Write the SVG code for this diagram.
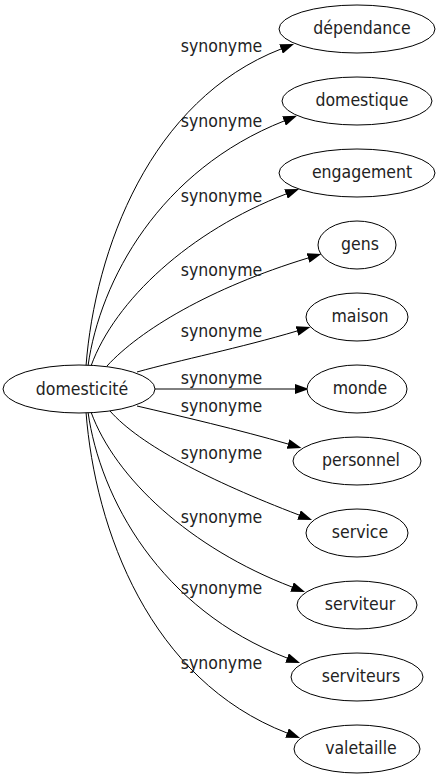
<svg xmlns="http://www.w3.org/2000/svg" width="439" height="779" viewBox="0 0 439 779">
<style>
.node ellipse{fill:#fff;stroke:#000;stroke-width:1}
.node text{font-family:"DejaVu Sans Condensed","DejaVu Sans",sans-serif;font-stretch:condensed;font-size:17.5px;text-anchor:middle;fill:#222}
.edges path{fill:none;stroke:#000;stroke-width:1;marker-end:url(#arr)}
.edges text{font-family:"DejaVu Sans Condensed","DejaVu Sans",sans-serif;font-stretch:condensed;font-size:17.5px;text-anchor:middle;fill:#222}
</style>
<defs>
<marker id="arr" markerUnits="userSpaceOnUse" markerWidth="14" markerHeight="10" viewBox="0 0 14 10" refX="0" refY="5" orient="auto">
<path d="M0,0 L14,5 L0,10 z" fill="#000"/>
</marker>
</defs>
<rect width="439" height="779" fill="#fff"/>
<g class="edges" id="edges">
<path d="M86,366 C95,250 150,100 281,49"/>
<text x="221.5" y="52">synonyme</text>
<path d="M88,366 C100,280 160,170 284,121"/>
<text x="221.5" y="127">synonyme</text>
<path d="M91,366 C115,300 190,231 286,194"/>
<text x="221.5" y="202">synonyme</text>
<path d="M107,366 C140,330 210,288 308,258"/>
<text x="221.5" y="276">synonyme</text>
<path d="M137,372 C180,360 240,348 297,331"/>
<text x="221.5" y="337">synonyme</text>
<path d="M155,389 L295,389"/>
<text x="221.5" y="384">synonyme</text>
<path d="M137,406 C180,416 240,430 288,444"/>
<text x="221.5" y="412">synonyme</text>
<path d="M110,411 C140,445 210,481 299,515"/>
<text x="221.5" y="459">synonyme</text>
<path d="M91,412 C115,478 190,548 292,587"/>
<text x="221.5" y="523">synonyme</text>
<path d="M88,412 C100,498 160,609 287,658"/>
<text x="221.5" y="594">synonyme</text>
<path d="M86,412 C95,530 150,680 287,733"/>
<text x="221.5" y="669">synonyme</text>
</g>
<g class="node" id="n-domesticite"><ellipse cx="79" cy="389" rx="76" ry="24"/><text x="82" y="395">domesticité</text></g>
<g class="node" id="n-dependance"><ellipse cx="357" cy="29" rx="78" ry="24"/><text x="362" y="34">dépendance</text></g>
<g class="node" id="n-domestique"><ellipse cx="357" cy="101" rx="75" ry="24"/><text x="362" y="106">domestique</text></g>
<g class="node" id="n-engagement"><ellipse cx="357" cy="173" rx="78" ry="24"/><text x="362" y="178">engagement</text></g>
<g class="node" id="n-gens"><ellipse cx="357" cy="245" rx="39" ry="24"/><text x="360" y="250">gens</text></g>
<g class="node" id="n-maison"><ellipse cx="357" cy="317" rx="51" ry="24"/><text x="360" y="322">maison</text></g>
<g class="node" id="n-monde"><ellipse cx="357" cy="389" rx="50" ry="24"/><text x="360" y="394">monde</text></g>
<g class="node" id="n-personnel"><ellipse cx="357" cy="461" rx="64" ry="24"/><text x="361" y="466">personnel</text></g>
<g class="node" id="n-service"><ellipse cx="357" cy="533" rx="51" ry="24"/><text x="360" y="538">service</text></g>
<g class="node" id="n-serviteur"><ellipse cx="357" cy="605" rx="60" ry="24"/><text x="360" y="610">serviteur</text></g>
<g class="node" id="n-serviteurs"><ellipse cx="357" cy="677" rx="66" ry="24"/><text x="361" y="682">serviteurs</text></g>
<g class="node" id="n-valetaille"><ellipse cx="357" cy="749" rx="63" ry="24"/><text x="361" y="754">valetaille</text></g>
</svg>
